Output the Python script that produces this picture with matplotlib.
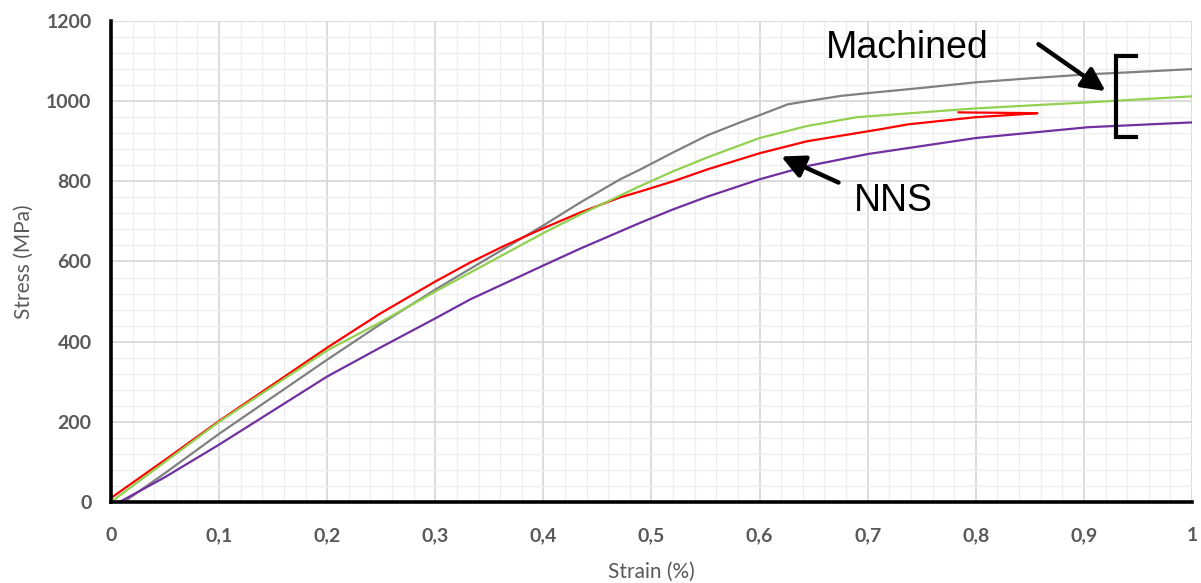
import matplotlib
matplotlib.use("Agg")
import matplotlib.pyplot as plt
from matplotlib.ticker import MultipleLocator, FuncFormatter

# ---- data ----
gray_strain = [0.012, 0.05, 0.1, 0.2, 0.249, 0.3, 0.4, 0.434, 0.471, 0.49, 0.52, 0.552, 0.582, 0.6, 0.626,
               0.644, 0.675, 0.70, 0.75, 0.80, 0.85, 0.904, 0.95, 1.0]
gray_stress = [0, 72, 170, 355, 443, 530, 690, 747, 805, 830, 872, 915, 947, 965, 992,
               1000, 1013, 1020, 1033, 1047, 1057, 1067, 1073, 1080]

green_strain = [0.0, 0.05, 0.1, 0.2, 0.249, 0.3, 0.4, 0.434, 0.487, 0.52, 0.552, 0.6, 0.644, 0.69, 0.75, 0.80, 0.904, 1.0]
green_stress = [0, 100, 200, 378, 448, 525, 671, 717, 785, 825, 860, 908, 938, 960, 972, 982, 997, 1012]

red_strain = [0.0, 0.05, 0.1, 0.2, 0.249, 0.3, 0.332, 0.363, 0.4, 0.434, 0.471, 0.49, 0.52, 0.552, 0.6, 0.644,
              0.712, 0.737, 0.80, 0.835, 0.857, 0.784]
red_stress = [10, 105, 202, 385, 470, 550, 597, 638, 683, 722, 760, 775, 800, 830, 870, 900,
              930, 942, 960, 966, 970, 972]

purple_strain = [0.008, 0.05, 0.1, 0.2, 0.249, 0.3, 0.332, 0.4, 0.434, 0.49, 0.52, 0.552, 0.6, 0.644, 0.70, 0.80, 0.904, 1.0]
purple_stress = [0, 62, 143, 313, 385, 458, 505, 590, 632, 697, 730, 762, 805, 838, 868, 908, 935, 947]

x_label = "Strain (%)"
y_label = "Stress (MPa)"
label_machined = "Machined"
label_nns = "NNS"

# ---- figure ----
fig = plt.figure(figsize=(12.01, 5.83), dpi=100)
ax = fig.add_axes([0.0924, 0.139, 0.9001, 0.825])

ax.plot(gray_strain, gray_stress, color="#808080", lw=1.6, zorder=3)
ax.plot(purple_strain, purple_stress, color="#7030a0", lw=1.6, zorder=3)
ax.plot(red_strain, red_stress, color="#ff0000", lw=1.6, zorder=3)
ax.plot(green_strain, green_stress, color="#92d050", lw=1.6, zorder=3)

ax.set_xlim(0, 1)
ax.set_ylim(0, 1200)
ax.xaxis.set_major_locator(MultipleLocator(0.1))
ax.xaxis.set_minor_locator(MultipleLocator(0.02))
ax.yaxis.set_major_locator(MultipleLocator(200))
ax.yaxis.set_minor_locator(MultipleLocator(40))

def xfmt(v, pos):
    if abs(v) < 1e-9:
        return "0"
    if abs(v - 1) < 1e-9:
        return "1"
    return ("%.1f" % v).replace(".", ",")

ax.xaxis.set_major_formatter(FuncFormatter(xfmt))
ax.yaxis.set_major_formatter(FuncFormatter(lambda v, p: "%d" % round(v)))

ax.grid(which="major", color="#d9d9d9", lw=1.3, zorder=0)
ax.grid(which="minor", color="#efefef", lw=1.0, zorder=0)
ax.set_axisbelow(True)

for s in ["top", "right"]:
    ax.spines[s].set_visible(False)
for s in ["left", "bottom"]:
    ax.spines[s].set_color("black")
    ax.spines[s].set_linewidth(2.6)
    ax.spines[s].set_zorder(4)

ax.tick_params(which="both", length=0)
ax.tick_params(axis="x", pad=18)
ax.tick_params(axis="y", pad=14)
for lab in ax.get_xticklabels() + ax.get_yticklabels():
    lab.set_family("Lato")
    lab.set_weight("bold")
    lab.set_fontsize(14)
    lab.set_color("#595959")

ax.set_xlabel(x_label, family="Lato", fontsize=15, color="#595959", labelpad=13)
ax.set_ylabel(y_label, family="Lato", fontsize=15, color="#595959", labelpad=9)

# annotations
ax.text(0.737, 1132, label_machined, family="Liberation Sans", fontsize=27,
        ha="center", va="center", color="black")
ax.text(0.724, 752, label_nns, family="Liberation Sans", fontsize=27,
        ha="center", va="center", color="black")

arrow_kw = dict(arrowstyle="-|>,head_length=0.7,head_width=0.35", color="black",
                lw=3.2, mutation_scale=20, shrinkA=0, shrinkB=0)
ax.annotate("", xy=(0.920, 1025), xytext=(0.858, 1142), arrowprops=arrow_kw)
ax.annotate("", xy=(0.620, 862), xytext=(0.673, 797), arrowprops=arrow_kw)

ax.plot([0.948, 0.930, 0.930, 0.948], [1112, 1112, 910, 910], color="black",
        lw=3, solid_joinstyle="miter", zorder=5)

fig.savefig("out.png", dpi=100)
